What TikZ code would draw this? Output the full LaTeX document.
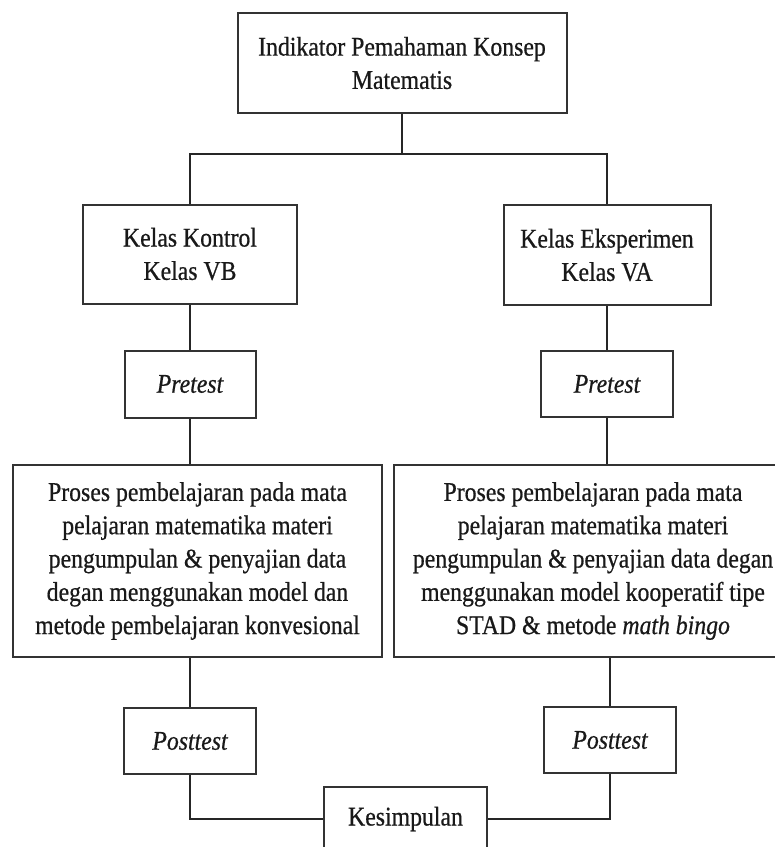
\documentclass[tikz,border=0pt]{standalone}
\usepackage{fontspec}
\setmainfont{Liberation Serif}[FakeStretch=0.88,FakeBold=0.6]
\begin{document}
\begin{tikzpicture}[x=1pt,y=-1pt,
  box/.style={draw=black!80, line width=2pt, rectangle, inner sep=0pt, align=center,
    font=\fontsize{27}{33.3}\selectfont, text=black!90},
  conn/.style={draw=black!85, line width=1.5pt}]
\clip (0,0) rectangle (775,847);
\fill[white] (0,0) rectangle (775,847);
\node[box, minimum width=329pt, minimum height=100pt] (top) at (402,63)
  {Indikator Pemahaman Konsep\\Matematis};
\node[box, minimum width=214pt, minimum height=99pt] (kk) at (190,254)
  {Kelas Kontrol\\Kelas VB};
\node[box, minimum width=207pt, minimum height=100pt] (ke) at (607,255)
  {Kelas Eksperimen\\Kelas VA};
\node[box, minimum width=131pt, minimum height=67pt] (pre1) at (190,384)
  {\itshape Pretest};
\node[box, minimum width=132pt, minimum height=66pt] (pre2) at (607,384)
  {\itshape Pretest};
\node[box, minimum width=369pt, minimum height=192pt] (big1) at (197.5,561)
  {Proses pembelajaran pada mata\\pelajaran matematika materi\\pengumpulan \& penyajian data\\degan menggunakan model dan\\metode pembelajaran konvesional};
\node[box, minimum width=398pt, minimum height=192pt] (big2) at (593,561)
  {Proses pembelajaran pada mata\\pelajaran matematika materi\\pengumpulan \& penyajian data degan\\menggunakan model kooperatif tipe\\STAD \& metode \textit{math bingo}};
\node[box, minimum width=132pt, minimum height=66pt] (post1) at (190,741)
  {\itshape Posttest};
\node[box, minimum width=132pt, minimum height=66pt] (post2) at (610,740)
  {\itshape Posttest};
\node[box, minimum width=163pt, minimum height=64pt] (kes) at (405.5,819)
  {Kesimpulan};
\coordinate (jc) at (402,154);
\draw[conn] (top.south) -- (jc);
\draw[conn] (kk.north) |- (jc) -| (ke.north);
\draw[conn] (kk.south) -- (pre1.north);
\draw[conn] (ke.south) -- (pre2.north);
\draw[conn] (pre1.south) -- (pre1.south |- big1.north);
\draw[conn] (pre2.south) -- (pre2.south |- big2.north);
\draw[conn] (post1.north |- big1.south) -- (post1.north);
\draw[conn] (post2.north |- big2.south) -- (post2.north);
\draw[conn] (post1.south) |- (kes.west);
\draw[conn] (post2.south) |- (kes.east);
\end{tikzpicture}
\end{document}
